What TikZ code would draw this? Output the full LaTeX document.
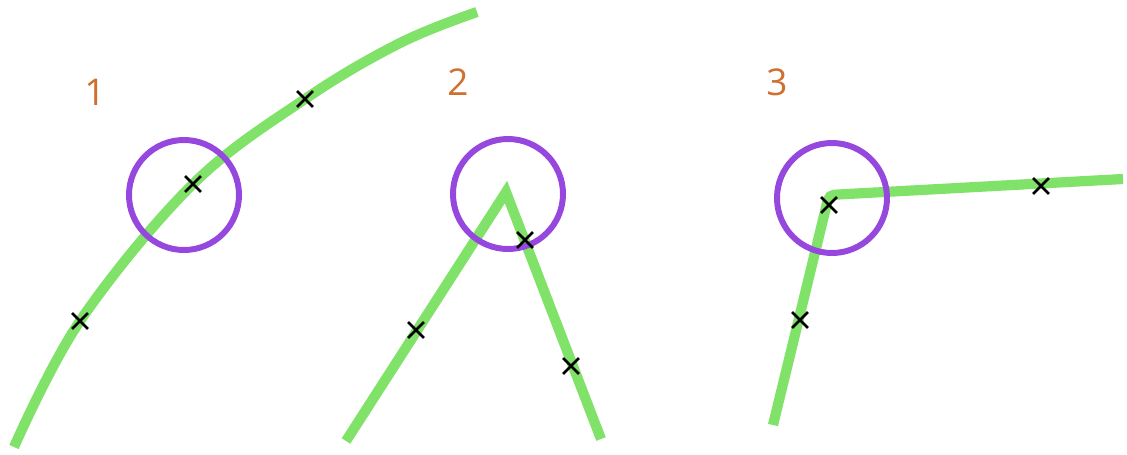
\documentclass[tikz,border=0pt]{standalone}
\usepackage{fontspec}
\setmainfont{Open Sans}
\usetikzlibrary{shapes.misc}
\definecolor{track}{RGB}{128,226,104}
\definecolor{ring}{RGB}{150,72,222}
\definecolor{numcol}{RGB}{206,112,48}

\begin{document}
\begin{tikzpicture}[x=0.02cm, y=-0.02cm,
  trackline/.style={draw=track, line width=5.8pt},
  ringline/.style={draw=ring, line width=3.4pt},
  xmark/.style={cross out, draw=black, line width=1.5pt, minimum size=7.5pt, inner sep=0pt},
  numlabel/.style={font=\fontsize{21}{24}\selectfont, text=numcol}
]
  \useasboundingbox (0,0) rectangle (1127,454);

  % case 1: smooth curve
  \draw[trackline] plot[smooth, tension=0.6] coordinates {(14,447) (80,321) (193,184) (305,99) (400,43) (477,12)};
  \draw[ringline] (184,195) circle (55);
  \node[xmark] (a1) at (80,321) {};
  \node[xmark] (a2) at (193,184) {};
  \node[xmark] (a3) at (305,99) {};
  \node[numlabel] (n1) at (95,92) {1};

  % case 2: sharp peak
  \draw[trackline, miter limit=20] (346,441) -- (506,192) -- (601,439);
  \draw[ringline] (508,194) circle (55);
  \node[xmark] (b1) at (416,330) {};
  \node[xmark] (b2) at (525,240) {};
  \node[xmark] (b3) at (571,366) {};
  \node[numlabel] (n2) at (458,82) {2};

  % case 3: corner
  \draw[trackline, rounded corners=3pt] (773,425) -- (829,195) -- (1123,179);
  \draw[ringline] (832,198) circle (55);
  \node[xmark] (c1) at (800,320) {};
  \node[xmark] (c2) at (829,205) {};
  \node[xmark] (c3) at (1041,186) {};
  \node[numlabel] (n3) at (777,82) {3};
\end{tikzpicture}
\end{document}
